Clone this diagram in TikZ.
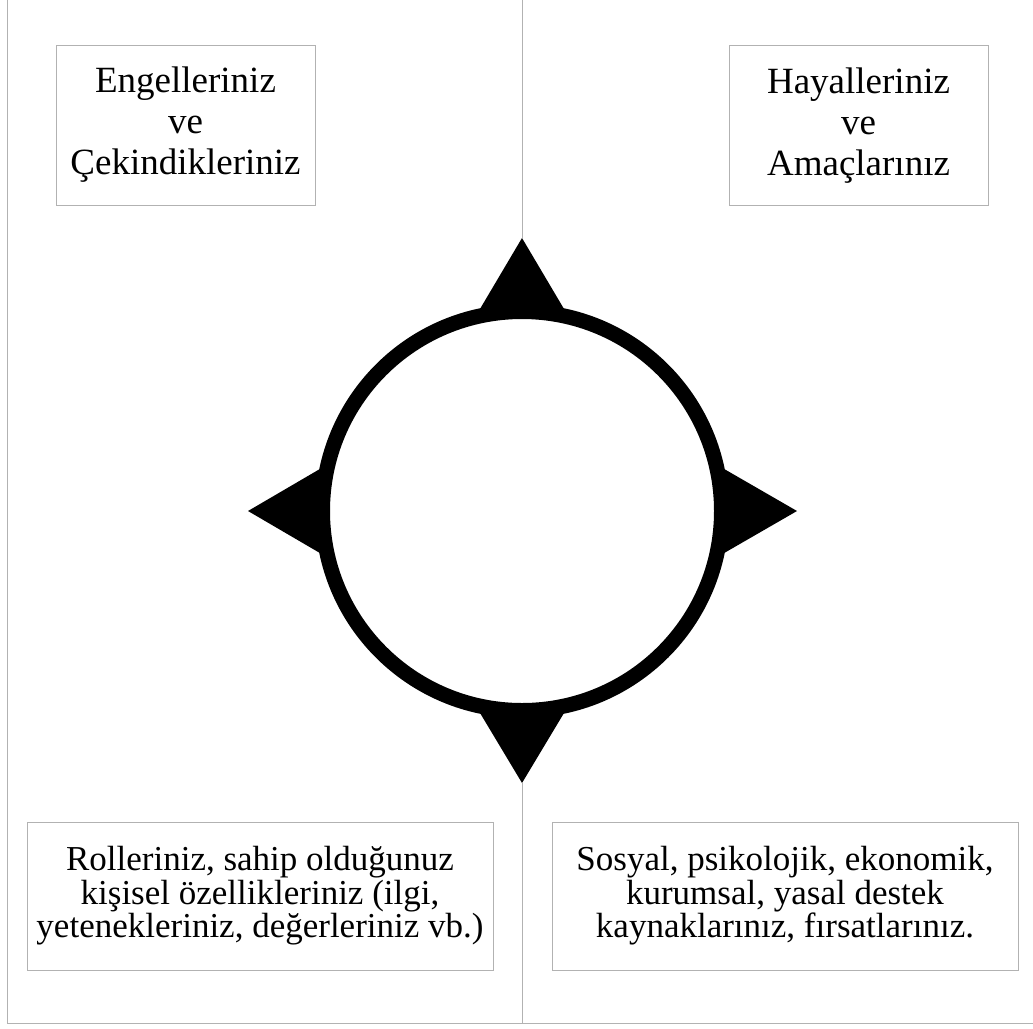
\documentclass[tikz,border=0pt]{standalone}
\usepackage{fontspec}
\setmainfont{Liberation Serif}
\usetikzlibrary{calc}
\begin{document}
\begin{tikzpicture}[x=1pt,y=-1pt,
  box/.style={draw=gray!60, line width=1pt, fill=white, align=center, inner sep=0pt},
  topbox/.style={box, minimum width=259pt, minimum height=160pt, font=\fontsize{37}{41}\selectfont},
  botbox/.style={box, minimum width=466pt, minimum height=148pt, font=\fontsize{35}{33.5}\selectfont},
  frameline/.style={draw=gray!60, line width=1pt},
  pointer/.style={fill=black},
  ring/.style={draw=black, line width=15pt}]
\useasboundingbox (0,0) rectangle (1033,1028);
\coordinate (c) at (522,511);
\coordinate (tl) at (7,0);
\coordinate (bl) at (7,1023);
\coordinate (br) at (1033,1023);
\coordinate (vt) at (522,0);
\coordinate (vb) at (522,1023);
\coordinate (nA) at ($(c)+(0,-273)$);
\coordinate (sA) at ($(c)+(0,272)$);
\coordinate (wA) at ($(c)+(-274,0)$);
\coordinate (eA) at ($(c)+(275,0)$);
\draw[frameline] (tl) -- (bl) -- (br);
\draw[frameline] (vt) -- (nA);
\draw[frameline] (sA) -- (vb);
\draw[ring] (c) circle (199.5);
\fill[pointer] (nA) -- ($(c)+(-45,-197)$) -- ($(c)+(45,-197)$) -- cycle;
\fill[pointer] (sA) -- ($(c)+(-45,197)$) -- ($(c)+(45,197)$) -- cycle;
\fill[pointer] (wA) -- ($(c)+(-197,-45)$) -- ($(c)+(-197,45)$) -- cycle;
\fill[pointer] (eA) -- ($(c)+(197,-45)$) -- ($(c)+(197,45)$) -- cycle;
\node[topbox] (obst) at (185.5,125) {Engelleriniz\\ve\\Çekindikleriniz};
\node[topbox] (dream) at (858.5,125.5) {Hayalleriniz\\ve\\Amaçlarınız};
\node[botbox] (roles) at (260,896) {Rolleriniz, sahip olduğunuz\\kişisel özellikleriniz (ilgi,\\yetenekleriniz, değerleriniz vb.)};
\node[botbox] (res) at (785,896) {Sosyal, psikolojik, ekonomik,\\kurumsal, yasal destek\\kaynaklarınız, fırsatlarınız.};
\end{tikzpicture}
\end{document}
